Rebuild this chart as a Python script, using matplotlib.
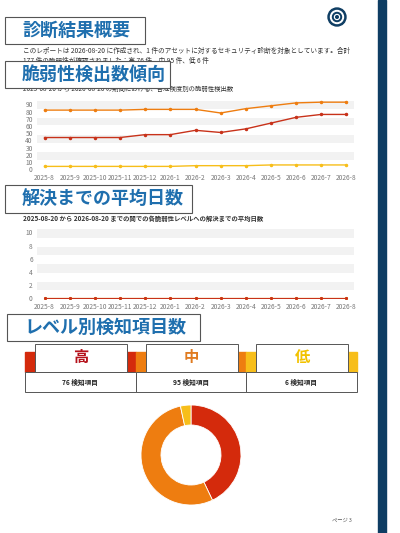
import matplotlib
matplotlib.use("Agg")
import matplotlib.pyplot as plt
from matplotlib.patches import Rectangle, Circle

plt.rcParams['font.family'] = ['Noto Sans CJK JP', 'DejaVu Sans']

months = ["2025-8","2025-9","2025-10","2025-11","2025-12","2026-1","2026-2","2026-3","2026-4","2026-5","2026-6","2026-7","2026-8"]
high = [44,44,44,44,48,48,54,51,56,64,72,76,76]
mid = [82,82,82,82,83,83,83,78,84,88,92,93,93]
low = [4,4,4,4,4,4,5,5,5,6,6,6,6]
days_high = [0]*13
days_mid = [0]*13
days_low = [0]*13
levels = ["高","中","低"]
counts = [76,95,6]

W, H = 400, 533
fig = plt.figure(figsize=(4, 5.33), dpi=100)
fig.patch.set_facecolor('white')
bg = fig.add_axes([0,0,1,1]); bg.set_xlim(0,W); bg.set_ylim(H,0); bg.axis('off')

def ax_px(x0,y0,x1,y1):
    return fig.add_axes([x0/W, 1-y1/H, (x1-x0)/W, (y1-y0)/H])

BLUE = '#1f6fae'
C_HIGH, C_MID, C_LOW = '#d42a0c', '#ee7d10', '#f7be1a'

bg.add_patch(Rectangle((378,0),8,H,color='#0e3d63'))
for r,c in [(9,'#0e3d63'),(6.5,'white'),(4.5,'#0e3d63'),(2.5,'white'),(1.3,'#0e3d63')]:
    bg.add_patch(Circle((337,17),r,color=c))

def header(x0,y0,x1,y1,text):
    bg.add_patch(Rectangle((x0,y0),x1-x0,y1-y0,fill=True,fc='white',ec='#555',lw=0.8,zorder=5))
    bg.text(x0+17,(y0+y1)/2,text,color=BLUE,fontsize=13,fontweight='bold',va='center',ha='left',zorder=6)

bg.text(23,51,"このレポートは 2026-08-20 に作成され、1 件のアセットに対するセキュリティ診断を対象としています。合計",fontsize=4.8,va='center',color='#333')
bg.text(23,61,"177 件の脆弱性が確認されました：高 76 件、中 95 件、低 6 件",fontsize=4.8,va='center',color='#333')
header(5,17,145,44,"診断結果概要")
header(5,61,170,88,"脆弱性検出数傾向")
bg.text(23,89,"2025-08-20 から 2026-08-20 の期間における、各危険度別の脆弱性検出数",fontsize=4.6,va='center',color='#333')

x = list(range(len(months)))
def style(ax, ymax, step, bands):
    for a,b in bands:
        ax.axhspan(a,b,color='#f2f2f2',zorder=0,lw=0)
    ax.set_xlim(-0.3,12.3)
    ax.set_yticks(range(0,ymax+1,step))
    ax.set_xticks(x); ax.set_xticklabels(months)
    ax.tick_params(labelsize=4.8,colors='#777',length=0,pad=3)
    for s in ax.spines.values(): s.set_visible(False)
    ax.set_facecolor('none')

ax1 = ax_px(37,100,354,170)
ax1.plot(x,mid,color=C_MID,marker='o',ms=1.5,lw=1)
ax1.plot(x,high,color='#c8321a',marker='o',ms=1.5,lw=1)
ax1.plot(x,low,color=C_LOW,marker='o',ms=1.5,lw=1)
style(ax1,90,10,[(84,95),(61,71),(37,48),(13,24)])
ax1.set_ylim(-1,96)

header(5,185,192,213,"解決までの平均日数")
bg.text(23,218,"2025-08-20 から 2026-08-20 までの間での各脆弱性レベルへの解決までの平均日数",fontsize=4.6,va='center',color='#333',fontweight='bold')
ax2 = ax_px(37,229,354,299)
ax2.plot(x,days_low,color=C_LOW,marker='o',ms=1.2,lw=0.8)
ax2.plot(x,days_mid,color=C_MID,marker='o',ms=1.2,lw=0.8)
ax2.plot(x,days_high,color='#c8321a',marker='o',ms=1.2,lw=0.8)
style(ax2,10,2,[(9.2,10.5),(6.5,7.8),(3.9,5.2),(1.2,2.5)])
ax2.set_ylim(-0.1,10.5)

header(7,314,200,341,"レベル別検知項目数")
cols = [C_HIGH, C_MID, C_LOW]
tcols = ['#b5121b','#e07b20','#f2c200']
for i,(lv,cnt) in enumerate(zip(levels,counts)):
    x0 = 25+i*110.7
    bg.add_patch(Rectangle((x0,352),110.7,20,color=cols[i],zorder=3))
    bg.add_patch(Rectangle((x0+10,344),92,28,fc='white',ec='#555',lw=0.7,zorder=4))
    bg.text(x0+56,357,lv,color=tcols[i],fontsize=11,fontweight='bold',ha='center',va='center',zorder=5)
    bg.add_patch(Rectangle((x0,372),110.7,20,fc='white',ec='#555',lw=0.7,zorder=3))
    bg.text(x0+55,382,f"{cnt} 検知項目",fontsize=4.8,fontweight='bold',ha='center',va='center',color='#222',zorder=5)

ax3 = ax_px(141,405,241,505)
ax3.pie(counts,colors=cols,startangle=90,counterclock=False,
        wedgeprops=dict(width=0.4,edgecolor='white',linewidth=0.6))
ax3.set_xlim(-1,1); ax3.set_ylim(-1,1)
ax3.set_aspect('equal')

bg.text(352,520,"ページ 3",fontsize=3.8,color='#555',ha='right',va='center')
fig.savefig("out.png",dpi=100)
